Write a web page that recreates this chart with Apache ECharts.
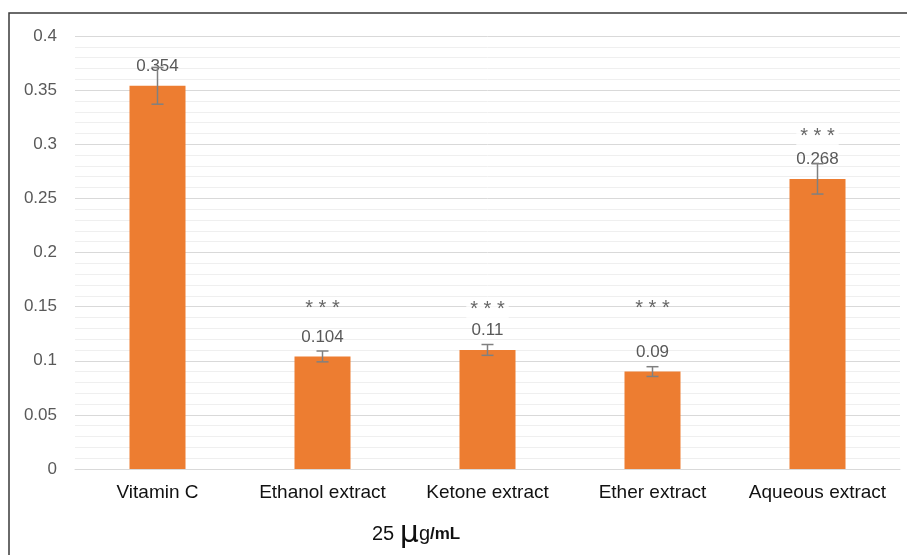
<!DOCTYPE html>
<html>
<head>
<meta charset="utf-8">
<script src="https://cdn.jsdelivr.net/npm/echarts@6/dist/echarts.min.js"></script>
<style>
  html, body { margin: 0; padding: 0; background: #fff; }
  #chart { width: 907px; height: 555px; }
</style>
</head>
<body>
<div id="chart"></div>
<script>
// Absorbance at 25 µg/mL for the standard and the four extracts
const categories = ['Vitamin C', 'Ethanol extract', 'Ketone extract', 'Ether extract', 'Aqueous extract'];
const means = [0.354, 0.104, 0.11, 0.09, 0.268];
const errors = [0.017, 0.005, 0.005, 0.0045, 0.014];
// significance marks and the value height at which each is printed
const significance = ['', '***', '***', '***', '***'];
const significanceLevel = [null, 0.152, 0.151, 0.152, 0.311];
const yTicks = { min: 0, max: 0.4, interval: 0.05 };

const chart = echarts.init(document.getElementById('chart'), null, { renderer: 'canvas' });

const errorData = means.map((m, i) => [i, m - errors[i], m + errors[i]]);
const sigData = significanceLevel.map((v, i) => ({
  value: [i, v === null ? 0 : v],
  label: {
    show: !!significance[i],
    formatter: significance[i].split('').join(' '),
    backgroundColor: (i === 2 || i === 4) ? '#fff' : 'transparent',
    padding: [0, 4, 0, 4]
  }
}));

chart.setOption({
  animation: false,
  backgroundColor: '#fff',
  textStyle: { fontFamily: 'Liberation Sans, Arial, sans-serif' },
  graphic: [{
    type: 'rect',
    shape: { x: 9, y: 13, width: 1000, height: 1000 },
    style: { fill: 'none', stroke: '#3a3a3a', lineWidth: 1.5 },
    silent: true
  }],
  title: {
    text: '{a|25 }{b|μ}{c|g}{d|/mL}',
    left: 367,
    top: 514,
    textStyle: {
      fontWeight: 'normal',
      rich: {
        a: { fontSize: 20, color: '#111', fontWeight: 'normal', fontFamily: 'Liberation Sans' },
        b: { fontSize: 30, color: '#111', fontWeight: 'normal', fontFamily: 'DejaVu Sans' },
        c: { fontSize: 20, color: '#111', fontWeight: 'normal', fontFamily: 'Liberation Sans' },
        d: { fontSize: 17, color: '#111', fontWeight: 'bold', fontFamily: 'Liberation Sans' }
      }
    }
  },
  grid: { left: 75, right: 7, top: 36, bottom: 86, containLabel: false },
  xAxis: {
    type: 'category',
    data: categories,
    axisLine: { lineStyle: { color: '#d9d9d9', width: 1 } },
    axisTick: { show: false },
    axisLabel: { color: '#111', fontSize: 19, margin: 14, interval: 0 }
  },
  yAxis: {
    type: 'value',
    min: yTicks.min,
    max: yTicks.max,
    interval: yTicks.interval,
    axisLine: { show: false },
    axisTick: { show: false },
    axisLabel: { color: '#595959', fontSize: 17, margin: 18 },
    splitLine: { lineStyle: { color: '#d9d9d9', width: 1 } },
    minorTick: { show: false, splitNumber: 5 },
    minorSplitLine: { show: true, lineStyle: { color: '#efefef', width: 1 } }
  },
  series: [
    {
      type: 'bar',
      data: means,
      barWidth: 56,
      itemStyle: { color: '#ed7d31' },
      z: 2,
      label: {
        show: true,
        position: 'top',
        distance: 11,
        color: '#595959',
        fontSize: 17
      }
    },
    {
      type: 'custom',
      data: errorData,
      z: 5,
      renderItem: function (params, api) {
        const x = api.value(0);
        const lo = api.coord([x, api.value(1)]);
        const hi = api.coord([x, api.value(2)]);
        const cap = 6;
        const style = { stroke: '#808080', lineWidth: 1.5 };
        return {
          type: 'group',
          children: [
            { type: 'line', shape: { x1: lo[0], y1: lo[1], x2: hi[0], y2: hi[1] }, style: style },
            { type: 'line', shape: { x1: lo[0] - cap, y1: lo[1], x2: lo[0] + cap, y2: lo[1] }, style: style },
            { type: 'line', shape: { x1: hi[0] - cap, y1: hi[1], x2: hi[0] + cap, y2: hi[1] }, style: style }
          ]
        };
      }
    },
    {
      type: 'scatter',
      data: sigData,
      symbolSize: 0,
      z: 4,
      label: {
        position: 'inside',
        color: '#404040',
        fontSize: 20,
        offset: [0, 4]
      }
    }
  ]
});
</script>
</body>
</html>
